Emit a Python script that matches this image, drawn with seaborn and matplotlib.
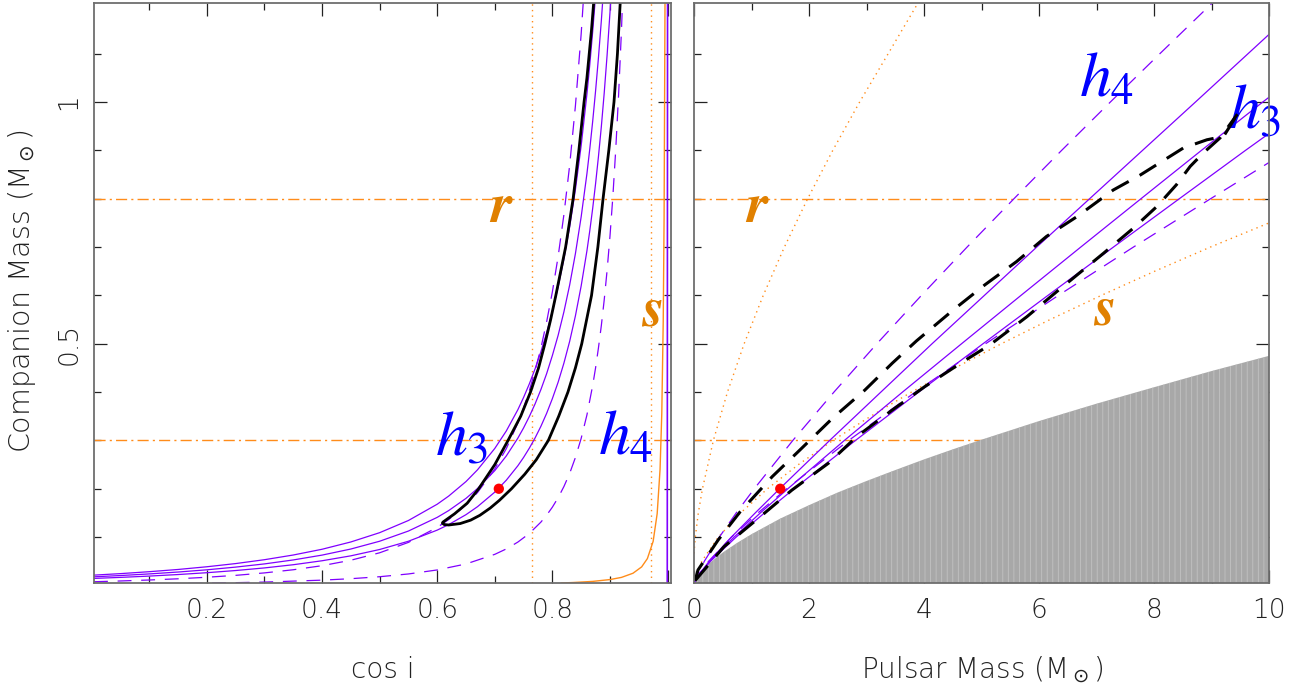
import matplotlib
matplotlib.use('Agg')
import matplotlib.pyplot as plt
import seaborn as sns

# =============================================================================
# Left panel: cos i vs companion mass
# =============================================================================
h3_cosi = [0.004, 0.05, 0.1, 0.15, 0.2, 0.25, 0.3, 0.35, 0.4, 0.45, 0.5, 0.55, 0.6, 0.62, 0.65, 0.67,
           0.7, 0.72, 0.74, 0.75, 0.76, 0.77, 0.78, 0.79, 0.8, 0.81, 0.82, 0.83, 0.84, 0.85, 0.86,
           0.865, 0.87, 0.875, 0.88, 0.885, 0.89, 0.895, 0.9, 0.905]
h3a_mc = [0.0213, 0.0244, 0.0284, 0.0330, 0.0386, 0.0452, 0.0532, 0.0629, 0.0748, 0.0899, 0.1091, 0.1343,
          0.168, 0.1849, 0.2149, 0.2392, 0.2834, 0.3196, 0.3634, 0.3889, 0.4170, 0.4482, 0.4832, 0.5226,
          0.5676, 0.6175, 0.6752, 0.7415, 0.8190, 0.9099, 1.0165, 1.078, 1.1457, 1.2202]
h3b_mc = [0.0178, 0.02045, 0.0238, 0.0277, 0.0323, 0.0379, 0.0445, 0.0527, 0.0627, 0.0753, 0.0914, 0.1125,
          0.1408, 0.1549, 0.1801, 0.2005, 0.2375, 0.2679, 0.3046, 0.3259, 0.3495, 0.3757, 0.405, 0.438,
          0.4757, 0.5175, 0.5659, 0.6215, 0.6864, 0.7626, 0.8519, 0.9035, 0.9602, 1.0227, 1.0918, 1.1679,
          1.2536]
h3c_mc = [0.0145, 0.01662, 0.0193, 0.0225, 0.0263, 0.0308, 0.0362, 0.0428, 0.0510, 0.0612, 0.0743, 0.0914,
          0.1144, 0.1259, 0.1464, 0.1629, 0.1930, 0.2177, 0.2475, 0.2648, 0.2840, 0.3052, 0.3290, 0.3559,
          0.3865, 0.4205, 0.4598, 0.5049, 0.5577, 0.6196, 0.6922, 0.7341, 0.7801, 0.8309, 0.8871, 0.9489,
          1.0185, 1.0966, 1.1848, 1.2837]

h4a_cosi = [0.004, 0.05, 0.1, 0.15, 0.2, 0.25, 0.3, 0.35, 0.4, 0.45, 0.5, 0.55, 0.6, 0.62, 0.65, 0.67,
            0.7, 0.72, 0.74, 0.75, 0.76, 0.77, 0.78, 0.79, 0.8, 0.81, 0.82, 0.83, 0.84, 0.85, 0.86]
h4a_mc = [0.0076, 0.0092, 0.0112, 0.0137, 0.0169, 0.0208, 0.0259, 0.0324, 0.0408, 0.0521, 0.0675, 0.0890,
          0.120, 0.1363, 0.1667, 0.1921, 0.2412, 0.2830, 0.3359, 0.3676, 0.4032, 0.4443, 0.4908, 0.5451,
          0.6073, 0.6806, 0.7669, 0.8691, 0.9921, 1.1409, 1.3228]

h4b_cosi = [0.004, 0.1, 0.2, 0.3, 0.4, 0.45, 0.5, 0.55, 0.6, 0.65, 0.7, 0.72, 0.74, 0.76, 0.78, 0.79, 0.8,
            0.81, 0.82, 0.83, 0.84, 0.85, 0.86, 0.87, 0.875, 0.88, 0.885, 0.89, 0.895, 0.9, 0.905, 0.91,
            0.915, 0.92, 0.925]
h4b_mc = [0.0020, 0.0030, 0.0045, 0.0069, 0.0109, 0.0139, 0.0180, 0.0237, 0.0320, 0.0444, 0.0643, 0.0755,
          0.0896, 0.1075, 0.1309, 0.1453, 0.1619, 0.1815, 0.2045, 0.2317, 0.2646, 0.3042, 0.3527, 0.4138,
          0.450, 0.4914, 0.5374, 0.5905, 0.6515, 0.722, 0.804, 0.901, 1.015, 1.149, 1.3175]

# black probability contour (closed)
cont_cosi = [0.872, 0.868, 0.864, 0.860, 0.855, 0.846, 0.836, 0.823, 0.806, 0.797, 0.787, 0.776, 0.762,
             0.745, 0.723, 0.700, 0.672, 0.652, 0.630, 0.617, 0.610, 0.609,
             0.612, 0.620, 0.640, 0.658, 0.674, 0.692, 0.708, 0.729, 0.752, 0.772, 0.793, 0.811, 0.827,
             0.840, 0.851, 0.868, 0.879, 0.888, 0.898, 0.907, 0.913, 0.918]
cont_mc = [1.21, 1.15, 1.1, 1.05, 1.0, 0.9, 0.8, 0.7, 0.6, 0.55, 0.5, 0.45, 0.4,
           0.35, 0.3, 0.25, 0.2, 0.17, 0.148, 0.137, 0.131, 0.129,
           0.126, 0.125, 0.128, 0.135, 0.145, 0.160, 0.176, 0.2, 0.23, 0.26, 0.3, 0.35, 0.4,
           0.45, 0.5, 0.6, 0.7, 0.8, 0.9, 1.0, 1.1, 1.21]

# mass function limit and edge line
mf_cosi = [0.815, 0.836, 0.87, 0.9, 0.92, 0.94, 0.955, 0.965, 0.975, 0.982, 0.987, 0.990, 0.9925, 0.994, 0.9956]
mf_mc = [0.005, 0.006, 0.0083, 0.0121, 0.0166, 0.0252, 0.0383, 0.0555, 0.0912, 0.1486, 0.240, 0.356, 0.546,
         0.76, 1.21]
edge_cosi = [0.9995, 1.0]
edge_mc = [0.0, 1.21]

s_cosi = [0.765, 0.971]       # sin i limits (dotted)
r_mc = [0.3, 0.8]             # companion mass limits (dash-dot)

best_cosi, best_mc = [0.707], [0.2]

# =============================================================================
# Right panel: pulsar mass vs companion mass
# =============================================================================
gray_mp = [0, 0.02, 0.05, 0.1, 0.25, 0.5, 0.75, 1, 1.5, 2, 2.5, 3, 3.5, 4, 4.5, 5, 6, 7, 8, 9, 10]
gray_mc = [0, 0.0098, 0.0163, 0.025, 0.0445, 0.068, 0.088, 0.106, 0.1383, 0.166, 0.1923, 0.216, 0.2386,
           0.2607, 0.2815, 0.3015, 0.340, 0.376, 0.410, 0.4435, 0.475]

r3c_mp = [0.040, 0.07, 0.265, 0.65, 1.065, 1.49, 2.36, 3.25, 4.14, 5.05, 5.96, 6.88, 7.8, 8.72, 10.0]
r3c_mc = [0.0143, 0.02, 0.05, 0.1, 0.15, 0.2, 0.3, 0.4, 0.5, 0.6, 0.7, 0.8, 0.9, 1.0, 1.14]
r3b_mp = [0.057, 0.07, 0.277, 0.697, 1.154, 1.632, 2.616, 3.626, 4.653, 5.686, 6.726, 7.773, 8.824, 9.89, 10.0]
r3b_mc = [0.0176, 0.02, 0.05, 0.1, 0.15, 0.2, 0.3, 0.4, 0.5, 0.6, 0.7, 0.8, 0.9, 1.0, 1.01]
r3a_mp = [0.076, 0.286, 0.733, 1.225, 1.740, 2.809, 3.908, 5.026, 6.155, 7.294, 8.44, 9.59, 10.0]
r3a_mc = [0.021, 0.05, 0.1, 0.15, 0.2, 0.3, 0.4, 0.5, 0.6, 0.7, 0.8, 0.9, 0.935]

r4a_mp = [0.001, 0.0515, 0.180, 0.441, 0.734, 1.048, 1.719, 2.434, 3.18, 3.955, 4.749, 5.564, 6.393, 7.24,
          8.101, 8.97, 9.06]
r4a_mc = [0.002, 0.02, 0.05, 0.1, 0.15, 0.2, 0.3, 0.4, 0.5, 0.6, 0.7, 0.8, 0.9, 1.0, 1.1, 1.2, 1.21]
r4b_mp = [0.013, 0.0665, 0.254, 0.653, 1.113, 1.612, 2.691, 3.85, 5.071, 6.337, 7.642, 8.984, 10.0]
r4b_mc = [0.0075, 0.02, 0.05, 0.1, 0.15, 0.2, 0.3, 0.4, 0.5, 0.6, 0.7, 0.8, 0.875]

up_mp = [0.02, 0.07, 0.42, 0.80, 1.36, 1.84, 2.41, 2.97, 3.45, 3.87, 4.51, 5.06, 5.61, 6.13, 6.66, 7.29,
         7.76, 8.51, 8.92, 9.21, 9.45]
up_mc = [0.01, 0.032, 0.094, 0.152, 0.225, 0.280, 0.346, 0.404, 0.460, 0.506, 0.570, 0.622, 0.670, 0.722,
         0.763, 0.818, 0.849, 0.905, 0.922, 0.929, 0.975]
lo_mp = [0.02, 0.52, 1.15, 1.70, 2.34, 2.83, 3.45, 4.01, 4.64, 5.15, 5.79, 6.31, 7.12, 7.64, 8.05, 8.39,
         8.63, 8.86, 9.15, 9.45]
lo_mc = [0.01, 0.080, 0.142, 0.197, 0.253, 0.308, 0.363, 0.411, 0.460, 0.498, 0.556, 0.608, 0.687, 0.739,
         0.784, 0.829, 0.867, 0.895, 0.926, 0.975]

sa_mp = [0, 0.0227, 0.075, 0.147, 0.337, 0.582, 0.872, 1.204, 1.572, 1.976, 2.413, 2.88, 3.376, 3.92]
sa_mc = [0.066, 0.1, 0.15, 0.2, 0.3, 0.4, 0.5, 0.6, 0.7, 0.8, 0.9, 1.0, 1.1, 1.21]
sb_mp = [0, 0.135, 0.423, 0.810, 1.278, 1.816, 2.416, 3.073, 3.782, 4.540, 5.345, 6.192, 7.083, 8.012, 8.98,
         10.0]
sb_mc = [0.0037, 0.05, 0.1, 0.15, 0.2, 0.25, 0.3, 0.35, 0.4, 0.45, 0.5, 0.55, 0.6, 0.65, 0.7, 0.75]

best_mp = [1.5]

# =============================================================================
# Style
# =============================================================================
sns.set_theme(style='ticks')
plt.rcParams['font.family'] = ['DejaVu Sans']
plt.rcParams['lines.scale_dashes'] = False
plt.rcParams['hatch.linewidth'] = 0.6

PURPLE = '#8000ff'
ORANGE = '#ff8c1a'
LABOR = '#e08000'
BLUE = '#0000ff'
INK = '#222222'

DASH = (0, (10, 7))
BDASH = (0, (14, 9))
DOT = (0, (1, 3))
DASHDOT = (0, (8, 3, 1.5, 3))


def line(ax, x, y, color, lw=0.9, ls='-', z=3):
    sns.lineplot(x=x, y=y, ax=ax, color=color, lw=lw, linestyle=ls,
                 sort=False, estimator=None, zorder=z)


def label(ax, x, y, txt, color, math=False):
    if math:
        ax.text(x, y, txt, color=color, fontsize=46, math_fontfamily='stix')
    else:
        ax.text(x, y, txt, color=color, fontsize=40, family='STIXGeneral',
                style='italic', weight='bold')


fig = plt.figure(figsize=(13.09, 6.95), dpi=100)
ax1 = fig.add_axes([94 / 1309, 112 / 695, 577 / 1309, 580 / 695])
ax2 = fig.add_axes([694 / 1309, 112 / 695, 575 / 1309, 580 / 695])

# ---- left panel
for m in r_mc:
    ax1.axhline(m, color=ORANGE, lw=1.0, ls=DASHDOT, zorder=2)
for c in s_cosi:
    ax1.axvline(c, color=ORANGE, lw=1.0, ls=DOT, zorder=2)
line(ax1, mf_cosi, mf_mc, ORANGE, lw=1.0)
line(ax1, edge_cosi, edge_mc, PURPLE, lw=1.2)
for ys in (h3a_mc, h3b_mc, h3c_mc):
    line(ax1, h3_cosi[:len(ys)], ys, PURPLE)
line(ax1, h4a_cosi, h4a_mc, PURPLE, ls=DASH)
line(ax1, h4b_cosi, h4b_mc, PURPLE, ls=DASH)
line(ax1, cont_cosi, cont_mc, 'black', lw=2.0, z=4)
sns.scatterplot(x=best_cosi, y=best_mc, ax=ax1, color='red', s=55,
                edgecolor='none', zorder=5)

label(ax1, 0.692, 0.752, 'r', LABOR)
label(ax1, 0.955, 0.537, 's', LABOR)
label(ax1, 0.596, 0.27, r'$h_{\mathit{3}}$', BLUE, math=True)
label(ax1, 0.879, 0.27, r'$h_{\mathit{4}}$', BLUE, math=True)

ax1.set_xlim(0.004, 1.006)
ax1.set_ylim(0.005, 1.205)
ax1.set_xticks([0.2, 0.4, 0.6, 0.8, 1.0], ['0.2', '0.4', '0.6', '0.8', '1'])
ax1.set_xticks([0.1, 0.3, 0.5, 0.7, 0.9], minor=True)

# ---- right panel
for m in r_mc:
    ax2.axhline(m, color=ORANGE, lw=1.0, ls=DASHDOT, zorder=1)
ax2.fill_between(gray_mp, gray_mc, 0, facecolor='#a8a8a8', edgecolor='#c2c2c2',
                 hatch='|||', lw=0, zorder=1.5)
line(ax2, sa_mp, sa_mc, ORANGE, lw=1.0, ls=DOT, z=2)
line(ax2, sb_mp, sb_mc, ORANGE, lw=1.0, ls=DOT, z=2)
for xs, ys in [(r3a_mp, r3a_mc), (r3b_mp, r3b_mc), (r3c_mp, r3c_mc)]:
    line(ax2, xs, ys, PURPLE)
for xs, ys in [(r4a_mp, r4a_mc), (r4b_mp, r4b_mc)]:
    line(ax2, xs, ys, PURPLE, ls=DASH)
line(ax2, up_mp, up_mc, 'black', lw=2.2, ls=BDASH, z=4)
line(ax2, lo_mp, lo_mc, 'black', lw=2.2, ls=BDASH, z=4)
sns.scatterplot(x=best_mp, y=best_mc, ax=ax2, color='red', s=55,
                edgecolor='none', zorder=5)

label(ax2, 0.90, 0.752, 'r', LABOR)
label(ax2, 6.95, 0.539, 's', LABOR)
label(ax2, 6.70, 1.012, r'$h_{\mathit{4}}$', BLUE, math=True)
label(ax2, 9.28, 0.946, r'$h_{\mathit{3}}$', BLUE, math=True)

ax2.set_xlim(0, 10)
ax2.set_ylim(0.005, 1.205)
ax2.set_xticks([0, 2, 4, 6, 8, 10], ['0', '2', '4', '6', '8', '10'])
ax2.set_xticks([1, 3, 5, 7, 9], minor=True)

# ---- shared axis styling
for ax in (ax1, ax2):
    ax.set_yticks([0.5, 1.0], ['0.5', '1'])
    ax.set_yticks([0.1, 0.2, 0.3, 0.4, 0.6, 0.7, 0.8, 0.9, 1.1], minor=True)
    ax.set_xlabel('')
    ax.set_ylabel('')
    for sp in ax.spines.values():
        sp.set_color('#6e6e6e')
        sp.set_linewidth(1.3)
        sp.set_visible(True)
        sp.set_zorder(6)
    ax.tick_params(which='both', direction='in', top=True, right=True,
                   color=INK, width=0.9, labelsize=19, labelcolor=INK)
    ax.tick_params(which='major', length=9.5, pad=11)
    ax.tick_params(which='minor', length=5)
    for lbl in ax.get_xticklabels() + ax.get_yticklabels():
        lbl.set_fontweight('light')

ax1.tick_params(axis='y', labelrotation=90, pad=9)
for lbl in ax1.get_yticklabels():
    lbl.set_va('center')
ax2.tick_params(axis='y', labelleft=False)

fig.text(383 / 1309, 17 / 695, 'cos i', fontsize=20, ha='center',
         va='baseline', weight='light', color=INK)
fig.text(982 / 1309, 17 / 695, r'Pulsar Mass (M$_\odot$)', fontsize=20,
         ha='center', va='baseline', weight='light', color=INK,
         math_fontfamily='dejavusans')
fig.text(22 / 1309, 404 / 695, r'Companion Mass (M$_\odot$)', fontsize=20.5,
         ha='center', va='center', rotation=90, weight='light',
         color=INK, math_fontfamily='dejavusans')

fig.savefig('out.png', dpi=100)
